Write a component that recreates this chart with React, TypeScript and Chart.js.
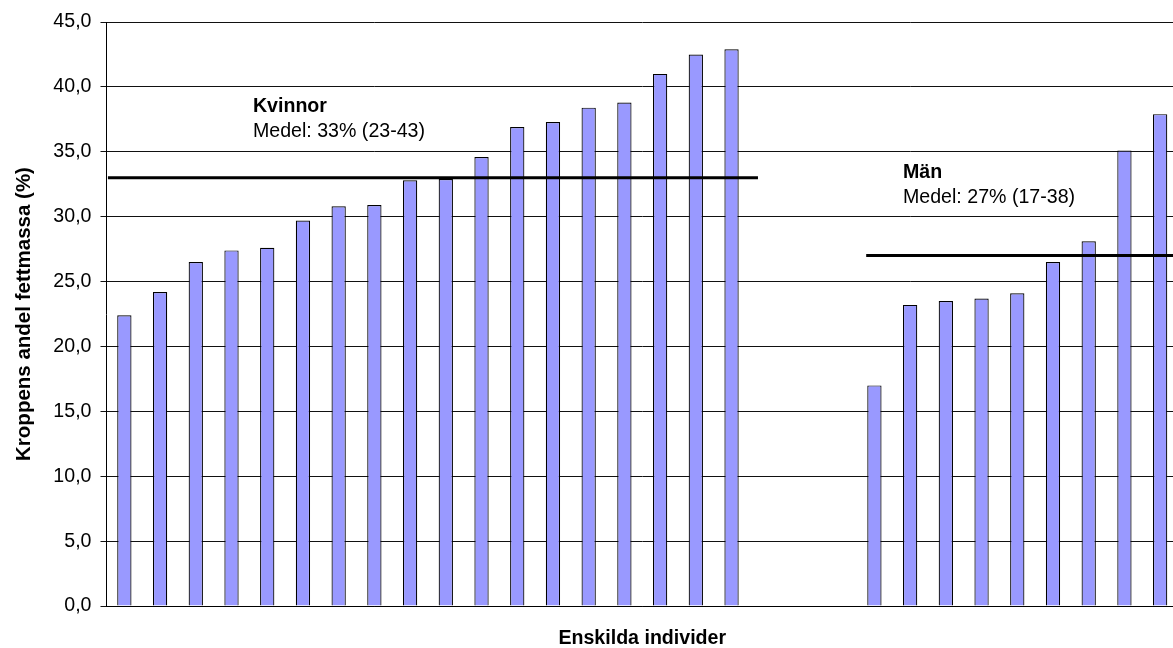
import React, { useEffect, useRef } from "react";
import { Chart, registerables } from "chart.js";

Chart.register(...registerables);

// Body fat share (%) per individual, sorted ascending within each group
const women: number[] = [22.4, 24.2, 26.5, 27.4, 27.6, 29.7, 30.8, 30.9, 32.8, 32.9, 34.6, 36.9, 37.3, 38.4, 38.8, 41.0, 42.5, 42.9];
const men: number[] = [17.0, 23.2, 23.5, 23.7, 24.1, 26.5, 28.1, 35.1, 37.9];
const gapSlots = 3;

const womenMean = 33;
const menMean = 27;
const womenRange: [number, number] = [23, 43];
const menRange: [number, number] = [17, 38];

const womenLabel = "Kvinnor";
const menLabel = "Män";

const yTicks: number[] = [0, 5, 10, 15, 20, 25, 30, 35, 40, 45];

const xTitle = "Enskilda individer";
const yTitle = "Kroppens andel fettmassa (%)";

const categories: string[] = [
  ...women.map((_, i) => `K${i + 1}`),
  ...Array.from({ length: gapSlots }, (_, i) => `-${i + 1}`),
  ...men.map((_, i) => `M${i + 1}`),
];
const barValues: (number | null)[] = [
  ...women,
  ...Array.from({ length: gapSlots }, () => null),
  ...men,
];

const FONT = "'Liberation Sans', Arial, Helvetica, sans-serif";
const FS = 19.6;

const groupNotes = {
  id: "groupNotes",
  afterDatasetsDraw(chart: any) {
    const { ctx } = chart;
    const xs = chart.scales.x2;
    const ys = chart.scales.y;
    const notes = [
      { x: 3.6, y: 38.1, title: womenLabel, text: `Medel: ${womenMean}% (${womenRange[0]}-${womenRange[1]})` },
      { x: 21.8, y: 32.95, title: menLabel, text: `Medel: ${menMean}% (${menRange[0]}-${menRange[1]})` },
    ];
    ctx.save();
    ctx.fillStyle = "#000";
    ctx.textAlign = "left";
    ctx.textBaseline = "alphabetic";
    for (const n of notes) {
      const px = xs.getPixelForValue(n.x);
      const py = ys.getPixelForValue(n.y);
      ctx.font = `bold ${FS}px ${FONT}`;
      ctx.fillText(n.title, px, py);
      ctx.font = `${FS}px ${FONT}`;
      ctx.fillText(n.text, px, py + 25);
    }
    ctx.restore();
  },
};

export default function App() {
  const canvasRef = useRef<HTMLCanvasElement | null>(null);

  useEffect(() => {
    if (!canvasRef.current) return;
    const n = categories.length;
    const chart = new Chart(canvasRef.current, {
      type: "bar",
      data: {
        labels: categories,
        datasets: [
          {
            type: "bar",
            data: barValues,
            backgroundColor: "#9999ff",
            borderColor: "#000",
            borderWidth: 1.2,
            barPercentage: 0.4,
            categoryPercentage: 1,
            grouped: false,
            xAxisID: "x",
            yAxisID: "y",
            order: 2,
          } as any,
          {
            type: "line",
            data: [
              { x: -0.46, y: womenMean },
              { x: 17.74, y: womenMean },
            ],
            borderColor: "#000",
            borderWidth: 3,
            pointRadius: 0,
            xAxisID: "x2",
            yAxisID: "y",
            order: 1,
          } as any,
          {
            type: "line",
            data: [
              { x: 20.77, y: menMean },
              { x: n - 0.5, y: menMean },
            ],
            borderColor: "#000",
            borderWidth: 3,
            pointRadius: 0,
            xAxisID: "x2",
            yAxisID: "y",
            order: 1,
          } as any,
        ],
      },
      options: {
        responsive: false,
        animation: false,
        layout: { padding: { top: 22, right: 2, left: 0, bottom: 0 } },
        plugins: {
          legend: { display: false },
          tooltip: { enabled: false },
        },
        scales: {
          x: {
            type: "category",
            offset: true,
            grid: { display: false },
            border: { display: true, color: "#000", width: 1 },
            ticks: { display: false },
            title: {
              display: true,
              text: xTitle,
              color: "#000",
              font: { family: FONT, size: FS, weight: "bold", lineHeight: 1 },
              padding: { top: 0, bottom: 0 },
            },
            afterFit: (s: any) => {
              s.height = 42;
            },
          },
          x2: {
            type: "linear",
            display: false,
            min: -0.5,
            max: n - 0.5,
            offset: false,
          },
          y: {
            type: "linear",
            min: 0,
            max: 45,
            afterBuildTicks: (s: any) => {
              s.ticks = yTicks.map((v) => ({ value: v }));
            },
            grid: { color: "#111", lineWidth: 1, drawTicks: true, tickLength: 6 },
            border: { display: true, color: "#000", width: 1 },
            ticks: {
              color: "#000",
              padding: 9,
              font: { family: FONT, size: FS },
              callback: (v: any) => Number(v).toFixed(1).replace(".", ","),
            },
            title: {
              display: true,
              text: yTitle,
              color: "#000",
              font: { family: FONT, size: 20.5, weight: "bold", lineHeight: 1.2 },
              padding: { top: 12, bottom: 0 },
            },
            afterFit: (s: any) => {
              s.width = 106.5;
            },
          },
        },
      },
      plugins: [groupNotes],
    });
    return () => chart.destroy();
  }, []);

  return (
    <div
      style={{
        position: "absolute",
        left: 0,
        top: 0,
        width: 1173,
        height: 648,
        overflow: "hidden",
        background: "#fff",
      }}
    >
      <canvas ref={canvasRef} width={1180} height={648} style={{ display: "block" }} />
    </div>
  );
}
